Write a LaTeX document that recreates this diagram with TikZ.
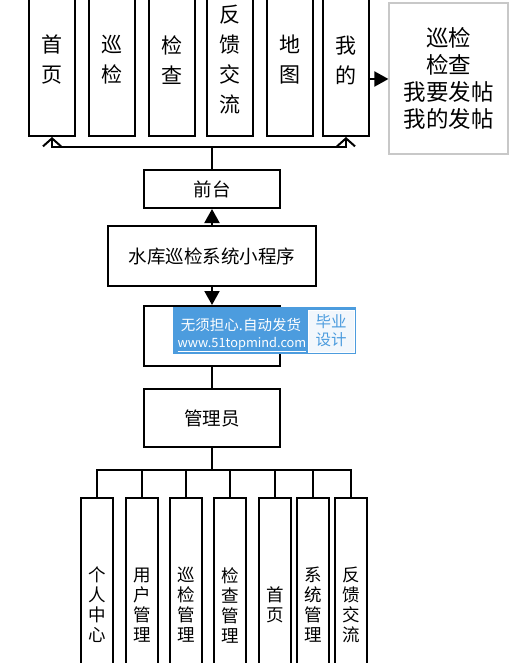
\documentclass[tikz,border=0pt]{standalone}
\usepackage{fontspec}
\newfontfamily\cjk{Noto Sans CJK SC}
\newfontfamily\wmfont{Noto Sans CJK SC}
\usetikzlibrary{arrows.meta}
\definecolor{wmblue}{RGB}{76,156,222}
\definecolor{wmpale}{RGB}{242,247,252}
\definecolor{graybox}{RGB}{200,200,200}
\tikzset{
  box/.style={draw=black, line width=2pt, fill=white, inner sep=0pt, align=center},
  topbox/.style={box, minimum width=46pt, minimum height=152pt, font=\cjk\fontsize{21}{30}\selectfont},
  botbox/.style={box, minimum width=32pt, minimum height=214pt, font=\cjk\fontsize{17.5}{20}\selectfont},
  midbox/.style={box, font=\cjk\fontsize{18.5}{22}\selectfont},
  conn/.style={line width=2pt},
  filled/.style={conn, -{Triangle[length=14pt,width=15pt]}},
  openarr/.style={conn, -{Straight Barb[length=8pt,width=18pt,line width=2pt]}},
}
\begin{document}
\begin{tikzpicture}[x=1pt,y=-1pt]
\useasboundingbox (0,0) rectangle (532,663);
\clip (0,0) rectangle (532,663);
% top row
\node[topbox] (t1) at (52,60) {首\\页};
\node[topbox] (t2) at (112,60) {巡\\检};
\node[topbox] (t3) at (172,60) {检\\查};
\node[topbox] (t4) at (230,60) {反\\馈\\交\\流};
\node[topbox] (t5) at (290,60) {地\\图};
\node[topbox] (t6) at (346,60) {我\\的};
\node[draw=graybox, line width=1.2pt, fill=white, minimum width=119pt, minimum height=151pt,
      align=center, font=\cjk\fontsize{22.5}{27}\selectfont] (r) at (448.5,78.5) {巡检\\检查\\我要发帖\\我的发帖};
\draw[filled] (t6.east |- 0,79) -- (r.west |- 0,79);
% middle
\node[midbox, minimum width=136pt, minimum height=38pt] (qt) at (212,189) {前台};
\node[midbox, minimum width=208pt, minimum height=60pt] (sys) at (212,256) {水库巡检系统小程序};
\node[midbox, minimum width=136pt, minimum height=60pt] (ht) at (212,336) {};
\node[midbox, minimum width=136pt, minimum height=58pt] (gl) at (212,418) {管理员};
\coordinate (bus) at (212,147);
\draw[conn] (qt.north) -- (bus);
\draw[openarr] (bus) -| (t1.south);
\draw[openarr] (bus) -| (t6.south);
\draw[filled] (sys.north) -- (qt.south);
\draw[filled] (sys.south) -- (ht.north);
\draw[conn] (ht.south) -- (gl.north);
% bottom
\node[botbox] (b1) at (97,605) {个\\人\\中\\心};
\node[botbox] (b2) at (142,605) {用\\户\\管\\理};
\node[botbox] (b3) at (186,605) {巡\\检\\管\\理};
\node[botbox] (b4) at (230,605) {检\\查\\管\\理};
\node[botbox] (b5) at (275,605) {首\\页};
\node[botbox] (b6) at (313,605) {系\\统\\管\\理};
\node[botbox] (b7) at (351,605) {反\\馈\\交\\流};
\coordinate (bb) at (212,470);
\draw[conn] (gl.south) -- (bb);
\draw[conn] (b1.north) |- (bb) -| (b7.north);
\foreach \b in {b2,b3,b4,b5,b6} {\draw[conn] (\b.north) -- (\b.north |- bb);}
% watermark overlay
\fill[wmblue] (173,307) rectangle (356,354);
\node[draw=white, line width=1pt, fill=wmpale, minimum width=46pt, minimum height=42pt, inner sep=0pt, align=center,
      text=wmblue, font=\wmfont\fontsize{15.5}{18}\selectfont] (wm2) at (331,331) {毕业\\设计};
\node[text=white, font=\wmfont\fontsize{14.5}{15}\selectfont, inner sep=0pt] (wm1) at (241,325) {无须担心.自动发货};
\node[text=white, font=\wmfont\fontsize{12.8}{14}\selectfont, inner sep=0pt] (wm3) at (242,344.5) {\underline{www.51topmind.com}};
\end{tikzpicture}
\end{document}
